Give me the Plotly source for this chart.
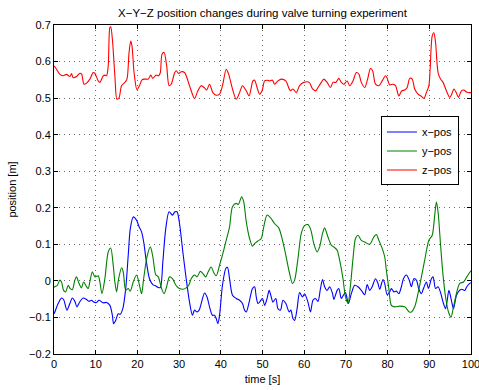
import plotly.graph_objects as go

# ---- data ----
t_x = [0.0, 0.2, 1.0, 1.8, 2.3, 3.1, 3.8, 4.4, 5.0, 5.5, 6.2, 7.0, 7.8, 8.4, 9.0, 9.5, 10.2, 10.8, 11.8, 12.6,
       13.4, 14.0, 14.3, 14.8, 15.4, 15.9, 16.5, 17.2, 17.8, 18.3, 19.0, 19.8, 20.4, 21.0, 21.5, 22.1, 22.9, 23.7,
       24.4, 25.0, 25.5, 26.1, 26.8, 27.6, 28.4, 29.0, 29.5, 30.1, 30.9, 31.7, 32.5, 33.2, 33.7, 34.3, 34.8, 35.3,
       36.1, 36.7, 37.3, 38.0, 38.5, 38.9, 39.3, 39.7, 40.4, 41.2, 41.6, 42.1, 42.8, 43.7, 44.5, 45.2, 45.7, 46.1,
       46.8, 47.6, 48.1, 48.5, 48.9, 49.3, 50.0, 50.5, 51.1, 51.6, 52.1, 52.5, 53.2, 53.7, 54.3, 54.9, 55.6, 56.4,
       56.8, 57.3, 57.7, 58.3, 58.9, 59.6, 60.1, 60.9, 61.5, 62.1, 62.7, 63.3, 63.9, 64.4, 64.9, 65.5, 66.1, 66.8,
       67.1, 67.9, 68.3, 68.9, 69.4, 69.9, 70.6, 71.3, 72.1, 72.9, 73.7, 74.5, 75.1, 75.7, 76.3, 77.1, 77.7, 78.1,
       78.9, 79.3, 79.9, 80.5, 80.9, 81.5, 82.1, 82.7, 83.3, 83.8, 84.5, 85.2, 85.7, 86.3, 86.9, 87.5, 88.1, 88.6,
       89.3, 89.8, 90.5, 90.9, 91.5, 92.1, 92.7, 93.3, 93.9, 94.3, 94.7, 95.3, 95.8, 96.5, 97.1, 97.7, 98.5, 99.0,
       99.7, 100.0]
x_pos = [-0.090, -0.085, -0.062, -0.047, -0.051, -0.080, -0.062, -0.047, -0.056, -0.071, -0.057, -0.047, -0.051,
         -0.056, -0.053, -0.058, -0.059, -0.053, -0.060, -0.059, -0.067, -0.094, -0.117, -0.108, -0.090, -0.091,
         -0.076, -0.021, 0.070, 0.143, 0.175, 0.166, 0.148, 0.134, 0.107, 0.057, 0.006, -0.010, -0.014, -0.018,
         -0.018, 0.052, 0.143, 0.189, 0.180, 0.189, 0.189, 0.157, 0.079, 0.006, -0.058, -0.094, -0.080, -0.085,
         -0.080, -0.062, -0.033, -0.044, -0.071, -0.094, -0.094, -0.103, -0.117, -0.094, -0.012, 0.034, 0.037,
         0.006, -0.039, -0.048, -0.053, -0.062, -0.080, -0.085, -0.058, -0.021, -0.016, -0.044, -0.062, -0.058,
         -0.048, -0.067, -0.048, -0.026, -0.044, -0.058, -0.048, -0.076, -0.080, -0.053, -0.062, -0.085, -0.080,
         -0.103, -0.108, -0.076, -0.032, -0.044, -0.035, -0.058, -0.085, -0.053, -0.048, -0.056, -0.021, 0.004,
         -0.016, -0.026, -0.016, -0.035, -0.051, -0.026, -0.021, -0.048, -0.039, -0.032, -0.062, -0.035, -0.012,
         -0.016, -0.026, -0.038, -0.010, -0.026, -0.016, 0.006, -0.007, -0.023, 0.004, -0.007, -0.038, -0.030,
         -0.021, -0.030, -0.028, -0.035, -0.016, 0.006, 0.016, 0.002, -0.016, 0.006, 0.002, -0.023, -0.035, -0.021,
         -0.003, -0.021, 0.006, 0.011, -0.021, -0.016, -0.032, -0.058, -0.076, -0.053, -0.026, -0.053, -0.076,
         -0.040, -0.028, -0.023, -0.026, -0.016, -0.007, -0.005]

t_y = [0.0, 0.2, 0.8, 1.4, 1.8, 2.3, 2.8, 3.4, 3.9, 4.4, 5.0, 5.4, 6.0, 6.6, 7.1, 7.8, 8.2, 8.6, 9.2, 9.8, 10.6,
       11.0, 11.5, 12.2, 13.0, 13.6, 14.2, 14.6, 15.0, 15.5, 16.2, 16.6, 17.2, 17.8, 18.3, 19.0, 19.8, 20.4, 21.0,
       21.5, 22.3, 23.1, 23.7, 24.4, 25.0, 25.8, 26.4, 27.0, 27.7, 28.4, 29.0, 29.5, 30.1, 30.9, 31.7, 32.4, 32.9,
       33.7, 34.3, 35.1, 35.7, 36.4, 36.9, 37.7, 38.3, 38.9, 39.7, 40.5, 41.3, 42.1, 42.8, 43.7, 44.2, 45.0, 45.5,
       46.1, 46.9, 47.6, 48.1, 48.9, 49.7, 50.3, 51.1, 51.9, 52.9, 53.9, 54.8, 55.6, 56.4, 57.2, 57.7, 58.5, 59.3,
       60.1, 60.9, 61.6, 62.3, 63.1, 63.7, 64.4, 64.9, 65.7, 66.5, 67.3, 67.9, 68.5, 69.3, 69.9, 70.5, 71.1, 71.7,
       72.3, 72.9, 73.7, 74.7, 75.7, 76.7, 77.3, 77.9, 78.7, 79.3, 79.7, 80.3, 80.9, 81.7, 82.9, 84.1, 85.2, 85.7,
       86.5, 87.7, 88.9, 89.9, 90.7, 91.3, 91.7, 92.1, 92.7, 93.3, 93.9, 94.6, 95.2, 95.8, 96.6, 97.3, 98.2, 99.0,
       99.8, 100.0]
y_pos = [-0.018, -0.016, -0.012, 0.002, -0.003, -0.026, -0.030, -0.012, -0.021, -0.024, 0.002, 0.011, -0.007,
         -0.019, -0.003, -0.016, -0.021, -0.003, 0.025, 0.011, 0.014, -0.003, -0.035, 0.006, 0.079, 0.090, 0.043,
         -0.003, -0.030, 0.006, 0.036, 0.025, -0.026, -0.021, -0.028, -0.003, 0.016, -0.007, -0.035, 0.006, 0.066,
         0.093, 0.066, 0.017, 0.011, -0.021, -0.035, -0.016, 0.011, 0.006, -0.007, -0.016, -0.021, -0.023, -0.019,
         -0.010, 0.006, 0.016, 0.011, 0.026, 0.020, 0.011, 0.023, 0.038, 0.023, 0.014, 0.043, 0.075, 0.111, 0.148,
         0.203, 0.212, 0.209, 0.230, 0.216, 0.162, 0.116, 0.095, 0.102, 0.109, 0.116, 0.148, 0.180, 0.173, 0.157,
         0.145, 0.111, 0.070, 0.025, -0.007, 0.002, 0.061, 0.130, 0.151, 0.154, 0.139, 0.102, 0.079, 0.093, 0.130,
         0.145, 0.120, 0.098, 0.091, 0.084, 0.057, 0.006, -0.044, -0.062, -0.012, 0.061, 0.116, 0.125, 0.111,
         0.105, 0.100, 0.120, 0.127, 0.111, 0.089, 0.066, 0.029, -0.021, -0.067, -0.071, -0.069, -0.071, -0.085,
         -0.085, -0.071, -0.012, 0.057, 0.111, 0.125, 0.180, 0.216, 0.189, 0.098, 0.015, -0.044, -0.085, -0.099,
         -0.071, -0.030, -0.007, -0.003, 0.011, 0.025, 0.028]

t_z = [0.0, 0.6, 1.4, 2.2, 3.0, 3.8, 4.2, 4.6, 5.4, 6.2, 6.6, 7.2, 7.8, 8.6, 9.4, 9.8, 10.6, 11.0, 11.8, 12.2, 12.6,
       13.0, 13.4, 13.6, 14.0, 14.6, 15.1, 15.6, 16.2, 17.0, 17.5, 18.0, 18.4, 18.7, 19.2, 19.9, 20.5, 21.1, 21.7,
       22.6, 23.2, 23.7, 24.5, 25.1, 25.5, 25.9, 26.4, 27.0, 27.6, 28.1, 28.9, 29.3, 29.9, 30.5, 31.3, 32.5, 33.7,
       34.5, 35.3, 36.1, 36.6, 37.3, 38.1, 38.9, 39.7, 40.4, 41.3, 41.9, 42.8, 43.7, 44.5, 45.2, 46.1, 46.8, 47.7,
       48.1, 48.7, 49.3, 49.9, 50.5, 51.1, 51.7, 52.4, 52.9, 53.7, 54.5, 55.6, 56.1, 56.7, 57.3, 58.1, 58.9, 59.9,
       61.2, 62.0, 62.8, 63.3, 64.1, 64.7, 65.5, 66.3, 66.9, 67.6, 68.3, 68.9, 69.5, 70.3, 70.9, 71.7, 72.5, 73.1,
       73.7, 74.5, 75.2, 75.9, 76.4, 77.1, 77.9, 78.7, 79.5, 79.9, 80.5, 81.3, 81.9, 82.7, 83.4, 84.1, 84.7, 85.3,
       85.9, 86.5, 87.3, 88.1, 88.7, 89.3, 89.9, 90.2, 90.7, 91.1, 91.5, 92.1, 92.7, 93.3, 94.1, 94.9, 95.4, 95.9,
       96.5, 97.0, 97.7, 98.3, 98.9, 99.8, 100.0]
z_pos = [0.588, 0.579, 0.565, 0.561, 0.565, 0.559, 0.567, 0.556, 0.559, 0.568, 0.566, 0.538, 0.541, 0.552, 0.570,
         0.568, 0.547, 0.543, 0.561, 0.563, 0.561, 0.588, 0.693, 0.695, 0.661, 0.561, 0.497, 0.501, 0.534, 0.543,
         0.552, 0.625, 0.656, 0.643, 0.570, 0.523, 0.534, 0.550, 0.552, 0.552, 0.563, 0.554, 0.563, 0.561, 0.570,
         0.620, 0.625, 0.590, 0.534, 0.538, 0.568, 0.575, 0.567, 0.572, 0.570, 0.534, 0.499, 0.520, 0.534, 0.528,
         0.522, 0.538, 0.515, 0.508, 0.511, 0.534, 0.579, 0.565, 0.525, 0.497, 0.515, 0.534, 0.520, 0.506, 0.547,
         0.549, 0.529, 0.511, 0.520, 0.547, 0.549, 0.547, 0.549, 0.538, 0.547, 0.552, 0.547, 0.534, 0.520, 0.525,
         0.515, 0.534, 0.543, 0.543, 0.525, 0.520, 0.529, 0.543, 0.552, 0.543, 0.529, 0.543, 0.543, 0.554, 0.543,
         0.538, 0.547, 0.534, 0.547, 0.570, 0.566, 0.543, 0.529, 0.552, 0.581, 0.575, 0.538, 0.534, 0.547, 0.561,
         0.554, 0.536, 0.538, 0.534, 0.506, 0.520, 0.522, 0.529, 0.554, 0.552, 0.525, 0.511, 0.505, 0.499, 0.515,
         0.534, 0.579, 0.670, 0.679, 0.652, 0.570, 0.552, 0.543, 0.520, 0.502, 0.511, 0.525, 0.514, 0.502, 0.520,
         0.522, 0.517, 0.515, 0.515]

series_names = ["x\u2212pos", "y\u2212pos", "z\u2212pos"]
series_colors = ["#0000ff", "#008000", "#ff0000"]
title_text = "X\u2212Y\u2212Z position changes during valve turning experiment"
x_label = "time [s]"
y_label = "position [m]"

FONT = "Liberation Sans, Arial, Helvetica, sans-serif"

fig = go.Figure()
for t, v, name, col in zip([t_x, t_y, t_z], [x_pos, y_pos, z_pos], series_names, series_colors):
    fig.add_trace(go.Scatter(x=t, y=v, mode="lines", name=name,
                             line=dict(color=col, width=1.1, shape="spline", smoothing=0.8)))

axis_common = dict(
    showline=True, linecolor="black", linewidth=1, mirror="ticks",
    ticks="inside", ticklen=4, tickcolor="black", tickwidth=1,
    showgrid=True, gridcolor="rgba(60,60,60,0.75)", griddash="1px,4px", gridwidth=1,
    zeroline=False, tickfont=dict(family=FONT, size=11, color="black"),
    ticklabeloverflow="allow", automargin=False,
)

fig.update_layout(
    width=479, height=390,
    margin=dict(l=54, r=8, t=25, b=36),
    paper_bgcolor="white", plot_bgcolor="white",
    font=dict(family=FONT, size=11, color="black"),
    title=dict(text=title_text, x=0.548, xanchor="center", y=0.967, yanchor="middle",
               font=dict(family=FONT, size=11.5, color="black")),
    xaxis=dict(range=[0, 100], dtick=10, tick0=0,
               title=dict(text=x_label, standoff=6, font=dict(family=FONT, size=11)),
               **axis_common),
    yaxis=dict(range=[-0.2, 0.7], dtick=0.1, tick0=0,
               title=dict(text=y_label, standoff=10, font=dict(family=FONT, size=11)),
               **axis_common),
    legend=dict(x=0.784, y=0.722, xanchor="left", yanchor="top",
                bgcolor="white", bordercolor="black", borderwidth=1,
                font=dict(family=FONT, size=11, color="black"),
                tracegroupgap=0, itemwidth=30),
    showlegend=True,
)

fig.write_html("out.html")
